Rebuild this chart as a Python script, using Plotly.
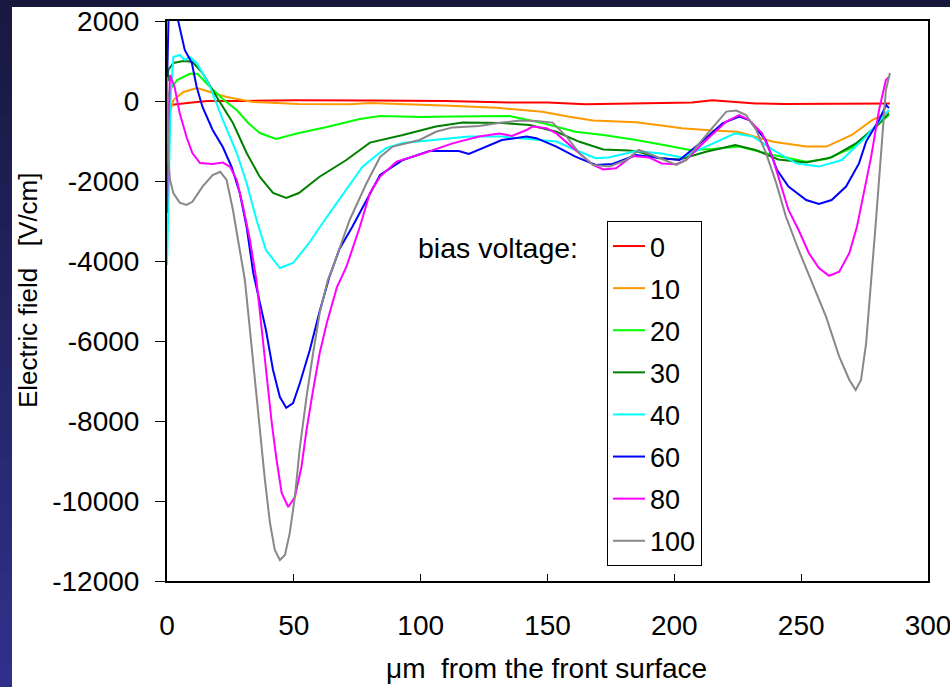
import plotly.graph_objects as go

# ---------------- data ----------------
bias_labels = ["0", "10", "20", "30", "40", "60", "80", "100"]
line_colors = ["#ff0000", "#ff9900", "#00ff00", "#008000", "#00ffff", "#0000ff", "#ff00ff", "#888888"]

x_0 = [0, 1.2, 8, 16, 30, 50, 80, 110, 135, 150, 165, 175, 186, 207, 215, 232, 243, 269, 285]
y_0 = [-100, -100, -50, 0, 0, 20, 10, 0, -40, -40, -80, -70, -70, -40, 20, -60, -75, -60, -60]

x_10 = [0, 0.5, 2.5, 6.5, 11.8, 17, 23.5, 34, 52, 72, 80, 109, 130, 148, 158, 168, 185, 198, 203, 215,
        225, 239, 252, 260, 270, 278, 284.6]
y_10 = [-600, -475, 25, 225, 325, 225, 100, -25, -75, -80, -50, -115, -170, -270, -390, -490, -530, -640, -680, -740,
        -770, -1020, -1140, -1140, -850, -480, -270]

x_20 = [0.5, 1.2, 4, 9, 12, 17, 22, 27.5, 32, 36.6, 43, 52, 63, 76, 84, 100, 113, 125, 135, 148, 161, 172,
        185, 198, 206, 215, 225.6, 239, 252, 260, 270, 278, 284.6]
y_20 = [100, 275, 525, 680, 680, 350, 50, -225, -550, -800, -950, -800, -650, -450, -375, -400, -390, -380, -375, -550,
        -770, -850, -975, -1125, -1225, -1200, -1140, -1350, -1520, -1450, -1175, -725, -350]

x_30 = [0.3, 0.5, 2.5, 6.5, 10, 14, 19.6, 26, 31.4, 36.6, 41.8, 47, 52, 60, 70.7, 80, 93, 106, 116.6, 132, 143,
        153.5, 162.6, 172, 182, 186, 194, 202, 212.5, 224, 232, 241, 252, 262, 271.6, 279.5, 284.6]
y_30 = [500, 775, 950, 1000, 980, 700, 100, -550, -1300, -1900, -2300, -2425, -2300, -1900, -1475, -1040, -850,
        -640, -540, -550, -600, -770, -1020, -1210, -1240, -1270, -1430, -1460, -1270, -1100, -1225, -1460, -1540,
        -1410, -1060, -640, -310]

x_40 = [0, 0.5, 1.5, 2.5, 5, 7, 9, 11.7, 17, 22, 27.5, 31.4, 35.3, 39, 44.5, 49.7, 56, 63, 70.7, 77, 82.7, 86.5,
        93, 106, 119, 132, 145.6, 153.5, 161, 169, 174, 185, 195, 203, 212.5, 224, 231, 239, 248, 257, 266, 275.6,
        284.6]
y_40 = [-4100, -2500, 200, 1100, 1150, 1025, 1100, 950, 360, -475, -1300, -2050, -2975, -3725, -4175, -4050, -3550,
        -2900, -2225, -1650, -1350, -1175, -1050, -975, -890, -890, -960, -1015, -1225, -1430, -1410, -1250, -1310,
        -1410, -1140, -810, -890, -1225, -1560, -1640, -1475, -890, -225]

x_60 = [0, 0.8, 3, 4.5, 7, 9.8, 11.7, 14, 18, 22, 25.5, 28.7, 31.4, 34, 36.6, 39, 41.8, 44.5, 47, 49.7, 52.4,
        56.3, 60, 64, 68, 73, 78.7, 84, 93, 103.5, 115, 119, 132, 141.7, 145.6, 153.5, 161, 169, 175.6, 185, 195,
        202, 210, 219, 225.6, 229.5, 236, 240.5, 245, 252, 257, 262, 267.7, 272.8, 275.6, 280.7, 283.5, 284.6]
y_60 = [400, 2600, 2400, 2000, 1275, 950, 350, -150, -725, -1150, -1650, -2300, -3150, -4300, -5050, -5725, -6725,
        -7400, -7670, -7550, -7050, -6225, -5300, -4400, -3700, -3150, -2475, -1850, -1475, -1250, -1250, -1325,
        -975, -890, -930, -1140, -1390, -1600, -1575, -1350, -1430, -1475, -1060, -560, -390, -475, -975, -1725,
        -2140, -2475, -2575, -2475, -2140, -1560, -1015, -475, -100, -180]

x_80 = [0, 0.6, 1.2, 3, 5, 7.7, 10, 13, 18, 22, 24.8, 27.5, 30, 32.7, 35.3, 37.3, 39.3, 41.3, 43.2, 45.2, 47.8,
        50.4, 53, 55, 57.6, 60.2, 63, 67, 70.7, 76, 80, 84, 90.5, 101, 112.6, 123, 131, 136, 141.7, 144, 149.6,
        153.5, 161, 168, 172, 177, 183.5, 190, 195, 200.8, 204.7, 212.6, 220.5, 225.6, 229.5, 234.6, 238.6, 241,
        245, 249, 253, 257, 261, 265, 269, 272, 274.8, 277.6, 280.7, 283.4, 284.6]
y_80 = [-2800, -500, 650, 350, -300, -900, -1300, -1550, -1575, -1540, -1640, -1975, -2650, -3475, -4500, -5725,
        -6975, -8050, -8975, -9800, -10150, -9900, -9150, -8225, -7225, -6300, -5550, -4650, -4150, -3150, -2300,
        -1890, -1515, -1310, -1060, -890, -810, -875, -725, -640, -680, -810, -1225, -1600, -1710, -1680, -1375,
        -1410, -1560, -1580, -1475, -975, -515, -350, -475, -810, -1390, -1890, -2725, -3225, -3800, -4175, -4370,
        -4270, -3800, -3140, -2225, -1390, -225, 525, 600]

x_100 = [0, 0.3, 0.6, 1.2, 2.5, 5, 7.7, 10, 14, 18, 21, 23.5, 26, 28, 30.7, 32.7, 34.6, 36.6, 38.6, 40.6, 42.5,
         44.5, 46.5, 48.4, 50.4, 52.4, 55, 57.6, 60.2, 63.4, 65, 72, 78.7, 84, 89, 99.6, 106, 112.6, 123, 132, 139,
         145.6, 152, 157.5, 162.6, 168, 174.4, 181, 186, 191.3, 195.3, 200.8, 204.7, 209.8, 216.5, 220.5, 224.4,
         228.3, 232.3, 236.2, 240.2, 244, 249, 254.4, 259.8, 265, 269, 271.5, 273.6, 275.6, 277.6, 279.5, 282,
         283.4, 285]
y_100 = [600, -900, -1500, -1975, -2300, -2540, -2600, -2520, -2140, -1850, -1770, -1975, -2725, -3475, -4475,
         -5725, -6975, -8225, -9475, -10550, -11225, -11475, -11350, -10800, -9900, -8650, -7400, -6300, -5300,
         -4475, -4225, -2975, -2050, -1400, -1140, -975, -770, -660, -625, -540, -490, -500, -540, -890, -1310,
         -1600, -1640, -1475, -1225, -1350, -1460, -1600, -1475, -1060, -560, -265, -240, -350, -725, -1310, -2060,
         -2890, -3725, -4560, -5390, -6390, -6975, -7225, -6975, -6060, -4560, -2975, -890, 275, 700]

series_x = [x_0, x_10, x_20, x_30, x_40, x_60, x_80, x_100]
series_y = [y_0, y_10, y_20, y_30, y_40, y_60, y_80, y_100]

x_tick_vals = [0, 50, 100, 150, 200, 250, 300]
y_tick_vals = [2000, 0, -2000, -4000, -6000, -8000, -10000, -12000]
y_tick_text = ["2000", "0", "-2000", "-4000", "-6000", "-8000", "-10000", "-12000"]

# ---------------- figure ----------------
W, H = 950, 687
L, R, T, B = 167, 22, 21, 106
FONT = "Liberation Sans, Arial, sans-serif"

def px_x(px):
    return (px - L) / (W - L - R)

def px_y(py):
    return (H - B - py) / (H - T - B)

fig = go.Figure()
for i, lab in enumerate(bias_labels):
    fig.add_trace(go.Scatter(
        x=series_x[i], y=series_y[i], mode="lines", name=lab,
        legendgroup=lab,
        line=dict(color=line_colors[i], width=2),
    ))

shapes = []
# slide background: dark band on top and gradient band on left
shapes.append(dict(type="rect", xref="paper", yref="paper", x0=px_x(-5), x1=px_x(W + 5),
                   y0=px_y(7), y1=px_y(-5), fillcolor="#17173c", line=dict(width=0), layer="above"))
n = 30
c0 = (0x18, 0x18, 0x40)
c1 = (0x30, 0x30, 0x8c)
for k in range(n):
    t = k / (n - 1)
    col = "rgb(%d,%d,%d)" % tuple(round(a + (b - a) * t) for a, b in zip(c0, c1))
    ya = H * k / n
    yb = H * (k + 1) / n + 1
    shapes.append(dict(type="rect", xref="paper", yref="paper", x0=px_x(-5), x1=px_x(12),
                       y0=px_y(yb), y1=px_y(ya), fillcolor=col, line=dict(width=0), layer="above"))

fig.update_layout(
    template="none",
    width=W, height=H, autosize=False,
    margin=dict(l=L, r=R, t=T, b=B, pad=0),
    paper_bgcolor="white", plot_bgcolor="white",
    font=dict(family=FONT, color="black", size=28),
    shapes=shapes,
    showlegend=True,
    legend=dict(
        x=px_x(607), y=px_y(221), xanchor="left", yanchor="top",
        bordercolor="black", borderwidth=1, bgcolor="white",
        font=dict(family=FONT, size=27, color="black"),
        tracegroupgap=4, traceorder="grouped", itemwidth=32,
    ),
    xaxis=dict(
        range=[0, 300], tickvals=x_tick_vals, ticks="inside", ticklen=7, tickwidth=1,
        tickcolor="black", showline=True, linecolor="black", linewidth=2, mirror=True,
        showgrid=False, zeroline=False, tickfont=dict(size=28, family=FONT, color="black"),
        ticklabelstandoff=18, automargin=False, ticklabeloverflow="allow",
    ),
    yaxis=dict(
        range=[-12000, 2000], tickvals=y_tick_vals, ticktext=y_tick_text, ticks="outside",
        ticklen=10, tickwidth=1, tickcolor="black", showline=True, linecolor="black",
        linewidth=2, mirror=True, showgrid=False, zeroline=False,
        tickfont=dict(size=28, family=FONT, color="black"), ticklabelstandoff=10,
        automargin=False, ticklabeloverflow="allow",
    ),
    annotations=[
        dict(text="bias voltage:", xref="paper", yref="paper", x=px_x(580), y=px_y(248),
             xanchor="right", yanchor="middle", showarrow=False,
             font=dict(size=28.5, family=FONT, color="black")),
        dict(text="μm\u00a0\u00a0from the front surface", xref="paper", yref="paper",
             x=px_x(546), y=px_y(668), xanchor="center", yanchor="middle", showarrow=False,
             font=dict(size=28, family=FONT, color="black")),
        dict(text="Electric field\u00a0\u00a0\u00a0[V/cm]", xref="paper", yref="paper",
             x=px_x(28), y=px_y(290), xanchor="center", yanchor="middle", showarrow=False,
             textangle=-90, font=dict(size=26, family=FONT, color="black")),
    ],
)

fig.write_html("out.html")
